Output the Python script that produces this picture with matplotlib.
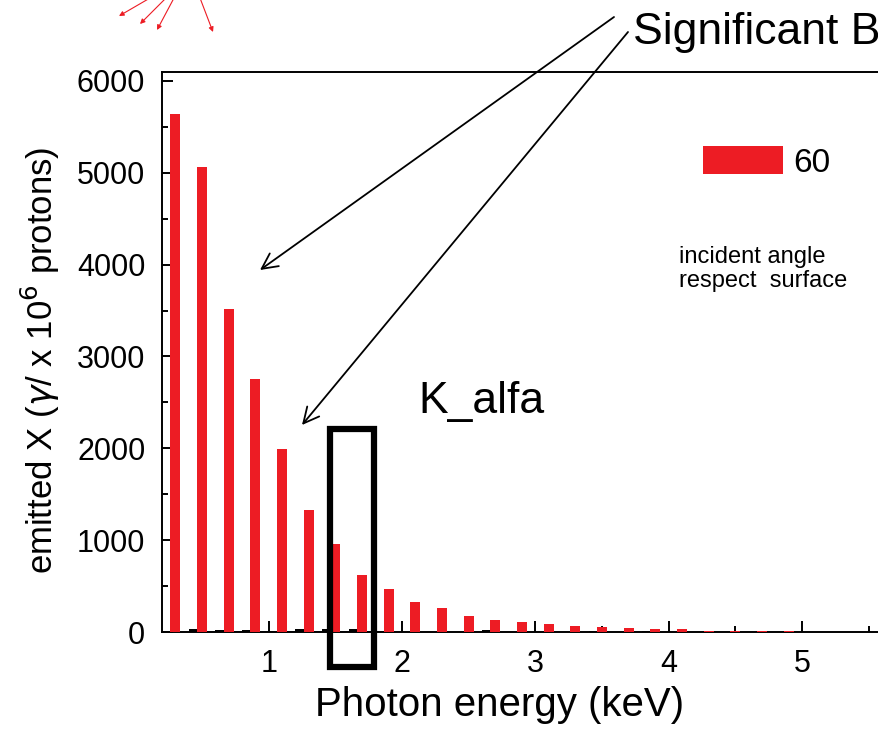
import matplotlib
matplotlib.use("Agg")
import matplotlib.pyplot as plt
from matplotlib.patches import Rectangle
from matplotlib.ticker import MultipleLocator
import numpy as np

plt.rcParams['font.family'] = ['Liberation Sans', 'DejaVu Sans']

# ---------------- data ----------------
energy_kev = [0.3, 0.5, 0.7, 0.9, 1.1, 1.3, 1.5, 1.7, 1.9, 2.1, 2.3, 2.5,
              2.7, 2.9, 3.1, 3.3, 3.5, 3.7, 3.9, 4.1, 4.3, 4.5, 4.7, 4.9]
counts_60 = [5640, 5060, 3520, 2750, 1990, 1330, 960, 620, 468, 325, 265, 174,
             131, 109, 87, 65, 54, 40, 33, 29, 16, 16, 12, 12]
counts_black = [5, 30, 25, 25, 15, 30, 30, 30, 8, 5, 5, 5,
                25, 5, 5, 5, 15, 5, 15, 5, 5, 5, 5, 5]
counts_blue = [5, 15, 10, 15, 15, 15, 15, 15, 5, 5, 5, 5,
               5, 5, 5, 5, 5, 5, 5, 5, 5, 5, 5, 5]
legend_label = "60"
xlabel = "Photon energy (keV)"
ylabel = r"emitted X ($\gamma$/ x 10$^6$ protons)"

W, H = 879, 729
fig = plt.figure(figsize=(W / 100, H / 100), dpi=100)

def fx(x):
    return x / W

def fy(y):
    return 1 - y / H

ax = fig.add_axes([fx(162), fy(632), (882 - 162) / W, (632 - 72) / H])

bw = 0.066
x = np.array(energy_kev)
ax.bar(x - bw, counts_black, width=bw, color='black', zorder=2)
bars = ax.bar(x, counts_60, width=0.076, color='#ED1C24', zorder=3, label=legend_label)
ax.bar(x + bw, counts_blue, width=bw, color='#1f2a8a', zorder=2)

ax.set_xlim(0.2, 5.6)
ax.set_ylim(0, 6098)
ax.xaxis.set_major_locator(MultipleLocator(1))
ax.xaxis.set_minor_locator(MultipleLocator(0.5))
ax.yaxis.set_major_locator(MultipleLocator(1000))
ax.yaxis.set_minor_locator(MultipleLocator(500))
ax.tick_params(which='both', direction='in', width=1.4, labelsize=22,
               top=False, right=False)
ax.tick_params(which='major', length=8, pad=12)
ax.tick_params(which='minor', length=4)
ax.spines['right'].set_visible(False)
for s in ['left', 'bottom', 'top']:
    ax.spines[s].set_linewidth(1.4)

ax.set_xlabel(xlabel, fontsize=29)
ax.xaxis.set_label_coords((500 - 162) / 720, (632 - 716) / 560)
ax.xaxis.label.set_va('baseline')
ax.set_ylabel(ylabel, fontsize=25)
ax.yaxis.set_label_coords((40 - 162) / 720, (632 - 360) / 560)
ax.yaxis.label.set_va('center')

# legend
leg = fig.legend(handles=[bars], labels=[legend_label], loc='center left',
                 bbox_to_anchor=(fx(703), fy(162.5)), frameon=False,
                 fontsize=24, handlelength=2.4, handleheight=0.93,
                 handletextpad=0.3, borderpad=0, borderaxespad=0)

fig.text(fx(679), fy(246), "incident angle\nrespect  surface", fontsize=17,
         va='top', ha='left', linespacing=1.12)

fig.text(fx(633), fy(44), "Significant B", fontsize=32, va='baseline', ha='left')
fig.text(fx(418), fy(413), "K_alfa", fontsize=32, va='baseline', ha='left')

# black arrows
for tail, head in [((614, 17), (260, 270)), ((628, 32), (302, 425))]:
    fig.add_artist(matplotlib.patches.FancyArrowPatch(
        (fx(tail[0]), fy(tail[1])), (fx(head[0]), fy(head[1])),
        transform=fig.transFigure, arrowstyle='->', mutation_scale=28,
        lw=1.3, color='black', shrinkA=0, shrinkB=0))

# red arrows at top-left
for tail, head in [((150, -2), (119, 16)), ((166, -2), (140, 24)),
                   ((174, -2), (157, 30)), ((200, -2), (213, 32))]:
    fig.add_artist(matplotlib.patches.FancyArrowPatch(
        (fx(tail[0]), fy(tail[1])), (fx(head[0]), fy(head[1])),
        transform=fig.transFigure, arrowstyle='-|>', mutation_scale=7,
        lw=0.8, color='#ED1C24', shrinkA=0, shrinkB=0))

# K_alfa box
fig.add_artist(Rectangle((fx(330), fy(667)), (374 - 330) / W, (667 - 429) / H,
                         transform=fig.transFigure, fill=False, lw=4.5,
                         edgecolor='black', zorder=10))

fig.savefig("out.png", dpi=100)
